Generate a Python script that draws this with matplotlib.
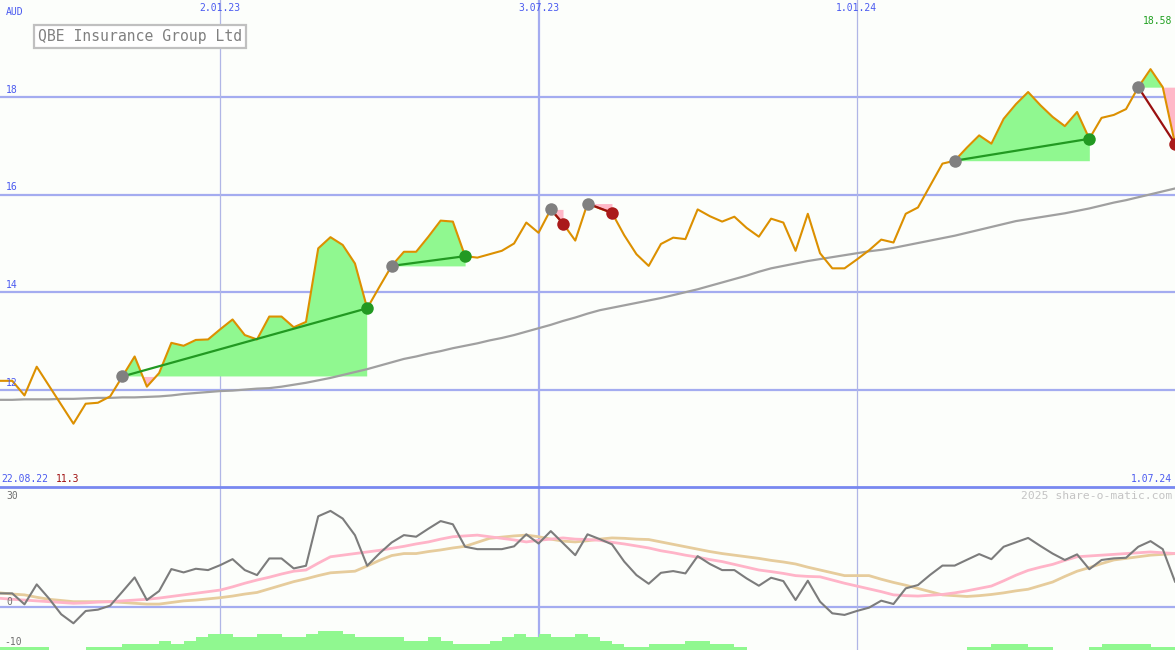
import matplotlib
matplotlib.use("Agg")
import matplotlib.pyplot as plt
import matplotlib.transforms as mtransforms
import numpy as np

# weekly closes (AUD), Monday points from 29.08.22 to 1.07.24
price = [12.18, 12.18, 11.88, 12.47, 12.08, 11.69, 11.30, 11.71, 11.73, 11.86,
         12.27, 12.68, 12.06, 12.34, 12.96, 12.90, 13.02, 13.03, 13.24, 13.44,
         13.12, 13.03, 13.50, 13.50, 13.28, 13.39, 14.90, 15.13, 14.97, 14.59,
         13.67, 14.11, 14.54, 14.83, 14.83, 15.14, 15.47, 15.45, 14.74, 14.71,
         14.78, 14.85, 15.00, 15.43, 15.22, 15.70, 15.41, 15.06, 15.82, 15.72,
         15.63, 15.17, 14.78, 14.54, 14.99, 15.12, 15.09, 15.70, 15.56, 15.45,
         15.55, 15.32, 15.14, 15.51, 15.43, 14.85, 15.61, 14.80, 14.49, 14.49,
         14.67, 14.86, 15.08, 15.02, 15.61, 15.74, 16.19, 16.64, 16.70, 16.97,
         17.22, 17.05, 17.56, 17.86, 18.11, 17.84, 17.60, 17.41, 17.70, 17.15,
         17.58, 17.64, 17.76, 18.21, 18.58, 18.21, 17.05]

# long moving average (grey)
avg_long = [11.79, 11.79, 11.80, 11.80, 11.80, 11.81, 11.81, 11.82, 11.83, 11.83,
            11.84, 11.84, 11.85, 11.86, 11.88, 11.91, 11.93, 11.95, 11.97, 11.98,
            12.00, 12.02, 12.03, 12.06, 12.10, 12.14, 12.19, 12.24, 12.30, 12.36,
            12.42, 12.49, 12.56, 12.63, 12.68, 12.74, 12.79, 12.85, 12.90, 12.95,
            13.01, 13.06, 13.12, 13.19, 13.26, 13.33, 13.41, 13.48, 13.56, 13.63,
            13.68, 13.73, 13.78, 13.83, 13.88, 13.94, 14.00, 14.06, 14.13, 14.20,
            14.27, 14.34, 14.42, 14.49, 14.54, 14.59, 14.64, 14.68, 14.72, 14.76,
            14.80, 14.84, 14.87, 14.91, 14.96, 15.01, 15.06, 15.11, 15.16, 15.22,
            15.28, 15.34, 15.40, 15.46, 15.50, 15.54, 15.58, 15.62, 15.67, 15.72,
            15.78, 15.84, 15.89, 15.95, 16.01, 16.07, 16.13]

# lower panel: oscillator and its two averages
osc = [3.47, 3.47, 0.74, 5.71, 2.2, -1.74, -3.99, -0.92, -0.59, 0.41,
       3.9, 7.45, 1.82, 4.05, 9.53, 8.70, 9.61, 9.28, 10.52, 12.01,
       9.28, 8.03, 12.18, 12.18, 9.69, 10.36, 22.7, 24.04, 22.13, 17.98,
       10.36, 13.43, 16.16, 18.0, 17.6, 19.6, 21.5, 20.7, 15.1, 14.5,
       14.5, 14.5, 15.2, 18.2, 15.9, 19.0, 16.0, 13.0, 18.2, 17.0,
       15.7, 11.4, 8.03, 5.87, 8.6, 9.03, 8.45, 12.76, 10.8, 9.28,
       9.28, 7.2, 5.38, 7.37, 6.54, 1.82, 6.63, 1.40, -1.5, -1.9,
       -0.92, -0.09, 1.65, 0.82, 4.72, 5.55, 8.1, 10.4, 10.4, 11.85,
       13.27, 12.0, 15.1, 16.2, 17.3, 15.3, 13.4, 11.8, 13.2, 9.5,
       11.8, 12.2, 12.35, 15.1, 16.5, 14.5, 6.4]

osc_fast = [2.24, 2.0, 1.8, 1.6, 1.4, 1.2, 1.0, 1.1, 1.3, 1.4,
            1.6, 1.8, 2.0, 2.3, 2.7, 3.1, 3.5, 3.9, 4.3, 5.1,
            6.0, 6.8, 7.5, 8.3, 9.0, 9.3, 11.0, 12.6, 13.0, 13.4,
            13.8, 14.2, 14.7, 15.2, 15.8, 16.3, 17.0, 17.6, 17.8, 18.0,
            17.6, 17.2, 16.8, 16.3, 16.7, 17.0, 17.3, 17.0, 16.9, 16.7,
            16.2, 15.8, 15.3, 14.8, 14.1, 13.6, 13.0, 12.5, 11.9, 11.4,
            10.7, 10.0, 9.3, 8.9, 8.45, 7.9, 7.7, 7.6, 6.8, 6.0,
            5.3, 4.6, 3.9, 3.1, 2.9, 2.8, 3.0, 3.2, 3.6, 4.1,
            4.7, 5.3, 6.6, 8.0, 9.2, 10.0, 10.7, 11.7, 12.6, 12.8,
            13.0, 13.2, 13.4, 13.6, 13.8, 13.6, 13.4]

osc_slow = [3.6, 3.3, 3.1, 2.5, 2.0, 1.7, 1.4, 1.4, 1.4, 1.4,
            1.2, 1.0, 0.8, 0.8, 1.2, 1.6, 1.8, 2.1, 2.4, 2.8,
            3.3, 3.7, 4.6, 5.5, 6.4, 7.1, 7.9, 8.6, 8.8, 9.0,
            10.3, 11.7, 12.9, 13.4, 13.4, 13.9, 14.3, 14.8, 15.2, 16.2,
            17.2, 17.5, 17.8, 18.0, 17.6, 17.0, 16.5, 16.3, 16.6, 17.0,
            17.3, 17.2, 17.0, 16.9, 16.3, 15.7, 15.1, 14.5, 13.9, 13.4,
            13.0, 12.6, 12.2, 11.7, 11.3, 10.8, 10.0, 9.3, 8.6, 7.9,
            7.9, 7.9, 7.0, 6.2, 5.5, 4.7, 3.9, 3.1, 2.9, 2.7,
            2.9, 3.2, 3.6, 4.1, 4.5, 5.4, 6.3, 7.7, 9.0, 9.9,
            10.9, 11.8, 12.2, 12.6, 13.0, 13.2, 13.4]

# weekly bar counts at the foot of the lower panel
hist = [1, 1, 1, 1, 0, 0, 0, 1, 1, 1,
        2, 2, 2, 3, 2, 3, 4, 5, 5, 4,
        4, 5, 5, 4, 4, 5, 6, 6, 5, 4,
        4, 4, 4, 3, 3, 4, 3, 2, 2, 2,
        3, 4, 5, 4, 5, 4, 4, 5, 4, 3,
        2, 1, 1, 2, 2, 2, 3, 3, 2, 2,
        1, 0, 0, 0, 0, 0, 0, 0, 0, 0,
        0, 0, 0, 0, 0, 0, 0, 0, 0, 1,
        1, 2, 2, 2, 1, 1, 0, 0, 0, 1,
        2, 2, 2, 2, 1, 1]

buy_weeks = [10, 32, 45, 48, 78, 93]
sell_weeks = [30, 38, 46, 50, 89, 96]

tick_weeks = [18, 44, 70]
tick_labels = ["2.01.23", "3.07.23", "1.01.24"]

W, H = 1175, 650
BG = "#fcfefb"
GRID = "#a4acf0"
BLUE = "#4a5af0"
GREEN_FILL = "#90f890"
PINK_FILL = "#ffb8c8"

fig = plt.figure(figsize=(W / 100, H / 100), dpi=100, facecolor=BG)
ax = fig.add_axes([0, 163 / H, 1, 487 / H])
bx = fig.add_axes([0, 0, 1, 163 / H])
for a in (ax, bx):
    a.set_facecolor(BG)
    a.set_axis_off()
    a.set_xlim(0, 96)
ax.set_ylim(10, 20)
bx.set_ylim(-10.65, 30)

x = np.arange(len(price))
p = np.array(price)

# grid
for v in [12, 14, 16, 18]:
    ax.axhline(v, color=GRID, lw=1.6, zorder=0)
bx.axhline(0, color=GRID, lw=1.6, zorder=0)
for a in (ax, bx):
    a.axvline(tick_weeks[0], color="#b0b6e6", lw=0.9, zorder=0)
    a.axvline(tick_weeks[1], color=GRID, lw=1.6, zorder=0)
    a.axvline(tick_weeks[2], color="#b0b6e6", lw=0.9, zorder=0)

# trades
for b, s in zip(buy_weeks, sell_weeks):
    seg = slice(b, s + 1)
    level = price[b]
    ax.fill_between(x[seg], p[seg], level, where=p[seg] >= level,
                    interpolate=True, color=GREEN_FILL, lw=0, zorder=1)
    ax.fill_between(x[seg], p[seg], level, where=p[seg] < level,
                    interpolate=True, color=PINK_FILL, lw=0, zorder=1)

ax.plot(x, avg_long, color="#a0a0a0", lw=1.6, zorder=2)
ax.plot(x, price, color="#dc9000", lw=1.5, zorder=3)

for b, s in zip(buy_weeks, sell_weeks):
    win = price[s] >= price[b]
    c = "#229922" if win else "#9a1010"
    ax.plot([b, s], [price[b], price[s]], color=c, lw=1.6, zorder=4)
    ax.plot(b, price[b], "o", ms=9, color="#808080", mec="none", zorder=5)
    ax.plot(s, price[s], "o", ms=9, color="#229922" if win else "#aa1a1a",
            mec="none", zorder=5)

# lower panel
bx.bar(np.arange(len(hist)), np.array(hist) * 0.78, width=1, align="edge",
       bottom=-10.65, color=GREEN_FILL, lw=0, zorder=1)
bx.plot(x, osc_slow, color="#e6cc9c", lw=2, zorder=2)
bx.plot(x, osc_fast, color="#ffb4c8", lw=2, zorder=3)
bx.plot(x, osc, color="#7c7c7c", lw=1.5, zorder=4)

# separator between panels
fig.add_artist(plt.Line2D([0, 1], [163 / H, 163 / H], color="#7888f0", lw=2))

mono = "DejaVu Sans Mono"


def txt(px, py, s, color, size=7, ha="left", **kw):
    fig.text(px / W, 1 - py / H, s, color=color, fontsize=size, ha=ha,
             va="center", family=mono, **kw)


txt(6, 12, "AUD", BLUE)
for v in [18, 16, 14, 12]:
    ypx = 97 + (18 - v) * 48.75
    txt(6, ypx - 7, str(v), BLUE)
for wk, lab in zip(tick_weeks, tick_labels):
    txt(wk * W / 96, 8, lab, BLUE, ha="center")
txt(1172, 21, "%.2f" % max(price), "#20a020", ha="right")
txt(1, 479, "22.08.22", BLUE)
txt(56, 479, "%.1f" % min(price), "#a01010")
txt(1172, 479, "1.07.24", BLUE, ha="right")
txt(6, 496, "30", "#707070")
txt(6, 602, "0", "#707070")
txt(4, 642, "-10", "#707070")
txt(1172, 496, "2025 share-o-matic.com", "#c4c4c4", size=8.2, ha="right")

fig.text(140 / W, 1 - 36.5 / H, "QBE Insurance Group Ltd", color="#808080",
         fontsize=10.6, family=mono, ha="center", va="center",
         bbox=dict(boxstyle="square,pad=0.25", fc="white", ec="#c0c0c0", lw=1.6))

fig.savefig("out.png", dpi=100, facecolor=BG)
